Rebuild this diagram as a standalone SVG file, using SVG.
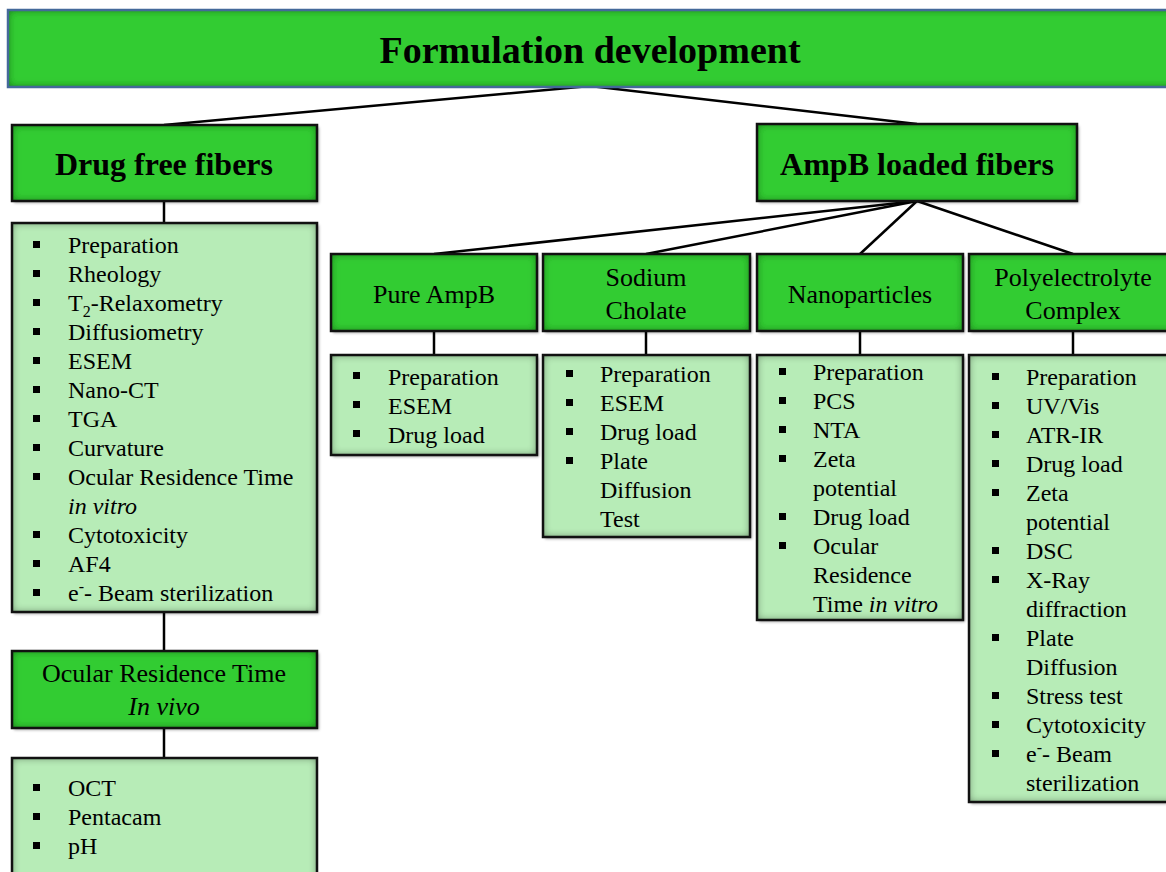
<svg xmlns="http://www.w3.org/2000/svg" width="1166" height="872" viewBox="0 0 1166 872">
<defs>
<filter id="inner" x="-20%" y="-30%" width="140%" height="160%">
<feFlood flood-color="#000" flood-opacity="1"/>
<feComposite in2="SourceAlpha" operator="out"/>
<feGaussianBlur stdDeviation="4"/>
<feComposite in2="SourceAlpha" operator="in" result="sh0"/>
<feComponentTransfer in="sh0" result="sh"><feFuncA type="linear" slope="0.85"/></feComponentTransfer>
<feMerge><feMergeNode in="SourceGraphic"/><feMergeNode in="sh"/></feMerge>
</filter>
<filter id="drop" x="-5%" y="-5%" width="115%" height="115%">
<feGaussianBlur in="SourceAlpha" stdDeviation="1.5"/>
<feOffset dx="1.5" dy="1.5"/>
<feComponentTransfer><feFuncA type="linear" slope="0.35"/></feComponentTransfer>
</filter>
</defs>
<style>
.node{fill:#33cc33}
.list{fill:#b7ecb7}
.bd{fill:none;stroke:#111;stroke-width:2.5}
.t{font-family:"Liberation Serif","Times New Roman",serif;fill:#000}
.h1{font-size:38px;font-weight:bold;text-anchor:middle}
.h2{font-size:32px;font-weight:bold;text-anchor:middle}
.h3{font-size:26px;text-anchor:middle}
.li{font-size:24px}
.bul{fill:#000}
.con{stroke:#000;stroke-width:2.5;fill:none}
</style>
<rect width="1166" height="872" fill="#fff"/>

<g id="connectors">
<line class="con" x1="590" y1="86" x2="164" y2="125"/>
<line class="con" x1="590" y1="86" x2="917" y2="124"/>
<line class="con" x1="164" y1="201" x2="164" y2="223"/>
<line class="con" x1="164" y1="612" x2="164" y2="651"/>
<line class="con" x1="164" y1="728" x2="164" y2="758"/>
<line class="con" x1="917" y1="201" x2="434" y2="254"/>
<line class="con" x1="917" y1="201" x2="646" y2="254"/>
<line class="con" x1="917" y1="201" x2="860" y2="254"/>
<line class="con" x1="917" y1="201" x2="1073" y2="254"/>
<line class="con" x1="434" y1="331" x2="434" y2="355"/>
<line class="con" x1="646" y1="331" x2="646" y2="355"/>
<line class="con" x1="860" y1="331" x2="860" y2="355"/>
<line class="con" x1="1073" y1="331" x2="1073" y2="355"/>
</g>

<g id="title">
<rect class="node" x="8" y="10" width="1170" height="77" filter="url(#inner)"/>
<rect x="8" y="10" width="1170" height="77" fill="none" stroke="#44699a" stroke-width="2.5"/>
<text class="t h1" x="590" y="63">Formulation development</text>
</g>

<g id="drug-free">
<rect x="12" y="125" width="305" height="76" filter="url(#drop)"/>
<rect class="node" x="12" y="125" width="305" height="76" filter="url(#inner)"/>
<rect class="bd" x="12" y="125" width="305" height="76"/>
<text class="t h2" x="164" y="175">Drug free fibers</text>
</g>

<g id="drug-free-list">
<rect x="12" y="223" width="305" height="389" filter="url(#drop)"/>
<rect class="list" x="12" y="223" width="305" height="389" filter="url(#inner)"/>
<rect class="bd" x="12" y="223" width="305" height="389"/>
<g class="bul">
<rect x="33" y="241" width="7" height="7"/>
<rect x="33" y="270" width="7" height="7"/>
<rect x="33" y="299" width="7" height="7"/>
<rect x="33" y="328" width="7" height="7"/>
<rect x="33" y="357" width="7" height="7"/>
<rect x="33" y="386" width="7" height="7"/>
<rect x="33" y="415" width="7" height="7"/>
<rect x="33" y="444" width="7" height="7"/>
<rect x="33" y="473" width="7" height="7"/>
<rect x="33" y="531" width="7" height="7"/>
<rect x="33" y="560" width="7" height="7"/>
<rect x="33" y="589" width="7" height="7"/>
</g>
<text class="t li" x="68" y="253">Preparation</text>
<text class="t li" x="68" y="282">Rheology</text>
<text class="t li" x="68" y="311">T<tspan font-size="16" dy="6">2</tspan><tspan dy="-6">-Relaxometry</tspan></text>
<text class="t li" x="68" y="340">Diffusiometry</text>
<text class="t li" x="68" y="369">ESEM</text>
<text class="t li" x="68" y="398">Nano-CT</text>
<text class="t li" x="68" y="427">TGA</text>
<text class="t li" x="68" y="456">Curvature</text>
<text class="t li" x="68" y="485">Ocular Residence Time</text>
<text class="t li" x="68" y="514" font-style="italic">in vitro</text>
<text class="t li" x="68" y="543">Cytotoxicity</text>
<text class="t li" x="68" y="572">AF4</text>
<text class="t li" x="68" y="601">e<tspan font-size="16" dy="-9">-</tspan><tspan dy="9">- Beam sterilization</tspan></text>
</g>

<g id="ocular-in-vivo">
<rect x="12" y="651" width="305" height="77" filter="url(#drop)"/>
<rect class="node" x="12" y="651" width="305" height="77" filter="url(#inner)"/>
<rect class="bd" x="12" y="651" width="305" height="77"/>
<text class="t h3" x="164" y="682">Ocular Residence Time</text>
<text class="t h3" x="164" y="715" font-style="italic">In vivo</text>
</g>

<g id="ocular-list">
<rect class="list" x="12" y="758" width="305" height="130" filter="url(#inner)"/>
<rect class="bd" x="12" y="758" width="305" height="130"/>
<g class="bul">
<rect x="33" y="784" width="7" height="7"/>
<rect x="33" y="813" width="7" height="7"/>
<rect x="33" y="842" width="7" height="7"/>
</g>
<text class="t li" x="68" y="796">OCT</text>
<text class="t li" x="68" y="825">Pentacam</text>
<text class="t li" x="68" y="854">pH</text>
</g>

<g id="ampb-loaded">
<rect x="757" y="124" width="320" height="77" filter="url(#drop)"/>
<rect class="node" x="757" y="124" width="320" height="77" filter="url(#inner)"/>
<rect class="bd" x="757" y="124" width="320" height="77"/>
<text class="t h2" x="917" y="175">AmpB loaded fibers</text>
</g>

<g id="pure-ampb">
<rect x="331" y="254" width="206" height="77" filter="url(#drop)"/>
<rect class="node" x="331" y="254" width="206" height="77" filter="url(#inner)"/>
<rect class="bd" x="331" y="254" width="206" height="77"/>
<text class="t h3" x="434" y="303">Pure AmpB</text>
</g>

<g id="pure-ampb-list">
<rect x="331" y="355" width="206" height="100" filter="url(#drop)"/>
<rect class="list" x="331" y="355" width="206" height="100" filter="url(#inner)"/>
<rect class="bd" x="331" y="355" width="206" height="100"/>
<g class="bul">
<rect x="353" y="372" width="7" height="7"/>
<rect x="353" y="401" width="7" height="7"/>
<rect x="353" y="430" width="7" height="7"/>
</g>
<text class="t li" x="388" y="385">Preparation</text>
<text class="t li" x="388" y="414">ESEM</text>
<text class="t li" x="388" y="443">Drug load</text>
</g>

<g id="sodium-cholate">
<rect x="543" y="254" width="207" height="77" filter="url(#drop)"/>
<rect class="node" x="543" y="254" width="207" height="77" filter="url(#inner)"/>
<rect class="bd" x="543" y="254" width="207" height="77"/>
<text class="t h3" x="646" y="286">Sodium</text>
<text class="t h3" x="646" y="319">Cholate</text>
</g>

<g id="sodium-cholate-list">
<rect x="543" y="355" width="207" height="182" filter="url(#drop)"/>
<rect class="list" x="543" y="355" width="207" height="182" filter="url(#inner)"/>
<rect class="bd" x="543" y="355" width="207" height="182"/>
<g class="bul">
<rect x="566" y="370" width="7" height="7"/>
<rect x="566" y="399" width="7" height="7"/>
<rect x="566" y="428" width="7" height="7"/>
<rect x="566" y="457" width="7" height="7"/>
</g>
<text class="t li" x="600" y="382">Preparation</text>
<text class="t li" x="600" y="411">ESEM</text>
<text class="t li" x="600" y="440">Drug load</text>
<text class="t li" x="600" y="469">Plate</text>
<text class="t li" x="600" y="498">Diffusion</text>
<text class="t li" x="600" y="527">Test</text>
</g>

<g id="nanoparticles">
<rect x="757" y="254" width="206" height="77" filter="url(#drop)"/>
<rect class="node" x="757" y="254" width="206" height="77" filter="url(#inner)"/>
<rect class="bd" x="757" y="254" width="206" height="77"/>
<text class="t h3" x="860" y="303">Nanoparticles</text>
</g>

<g id="nanoparticles-list">
<rect x="757" y="355" width="206" height="265" filter="url(#drop)"/>
<rect class="list" x="757" y="355" width="206" height="265" filter="url(#inner)"/>
<rect class="bd" x="757" y="355" width="206" height="265"/>
<g class="bul">
<rect x="779" y="368" width="7" height="7"/>
<rect x="779" y="397" width="7" height="7"/>
<rect x="779" y="426" width="7" height="7"/>
<rect x="779" y="455" width="7" height="7"/>
<rect x="779" y="513" width="7" height="7"/>
<rect x="779" y="542" width="7" height="7"/>
</g>
<text class="t li" x="813" y="380">Preparation</text>
<text class="t li" x="813" y="409">PCS</text>
<text class="t li" x="813" y="438">NTA</text>
<text class="t li" x="813" y="467">Zeta</text>
<text class="t li" x="813" y="496">potential</text>
<text class="t li" x="813" y="525">Drug load</text>
<text class="t li" x="813" y="554">Ocular</text>
<text class="t li" x="813" y="583">Residence</text>
<text class="t li" x="813" y="612">Time <tspan font-style="italic">in vitro</tspan></text>
</g>

<g id="polyelectrolyte">
<rect x="969" y="254" width="208" height="77" filter="url(#drop)"/>
<rect class="node" x="969" y="254" width="208" height="77" filter="url(#inner)"/>
<rect class="bd" x="969" y="254" width="208" height="77"/>
<text class="t h3" x="1073" y="286">Polyelectrolyte</text>
<text class="t h3" x="1073" y="319">Complex</text>
</g>

<g id="polyelectrolyte-list">
<rect x="969" y="355" width="208" height="447" filter="url(#drop)"/>
<rect class="list" x="969" y="355" width="208" height="447" filter="url(#inner)"/>
<rect class="bd" x="969" y="355" width="208" height="447"/>
<g class="bul">
<rect x="992" y="373" width="7" height="7"/>
<rect x="992" y="402" width="7" height="7"/>
<rect x="992" y="431" width="7" height="7"/>
<rect x="992" y="460" width="7" height="7"/>
<rect x="992" y="489" width="7" height="7"/>
<rect x="992" y="547" width="7" height="7"/>
<rect x="992" y="576" width="7" height="7"/>
<rect x="992" y="634" width="7" height="7"/>
<rect x="992" y="692" width="7" height="7"/>
<rect x="992" y="721" width="7" height="7"/>
<rect x="992" y="750" width="7" height="7"/>
</g>
<text class="t li" x="1026" y="385">Preparation</text>
<text class="t li" x="1026" y="414">UV/Vis</text>
<text class="t li" x="1026" y="443">ATR-IR</text>
<text class="t li" x="1026" y="472">Drug load</text>
<text class="t li" x="1026" y="501">Zeta</text>
<text class="t li" x="1026" y="530">potential</text>
<text class="t li" x="1026" y="559">DSC</text>
<text class="t li" x="1026" y="588">X-Ray</text>
<text class="t li" x="1026" y="617">diffraction</text>
<text class="t li" x="1026" y="646">Plate</text>
<text class="t li" x="1026" y="675">Diffusion</text>
<text class="t li" x="1026" y="704">Stress test</text>
<text class="t li" x="1026" y="733">Cytotoxicity</text>
<text class="t li" x="1026" y="762">e<tspan font-size="16" dy="-9">-</tspan><tspan dy="9">- Beam</tspan></text>
<text class="t li" x="1026" y="791">sterilization</text>
</g>
</svg>
